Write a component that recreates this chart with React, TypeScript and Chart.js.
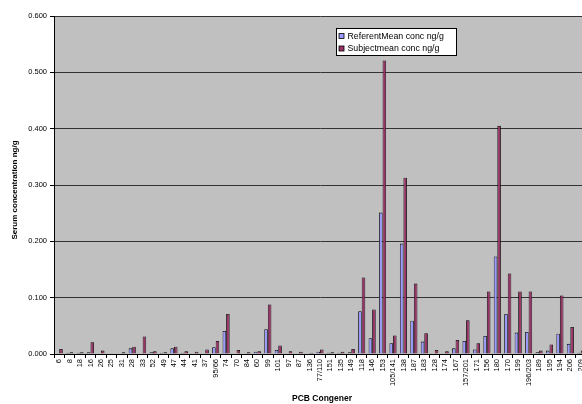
import { useEffect, useRef } from "react";
import { Chart, registerables } from "chart.js";

Chart.register(...registerables);

const FONT = "'Liberation Sans', Arial, sans-serif";

const categories = [
  "6", "8", "18", "16", "26", "25", "31", "28", "33", "52", "49", "47", "44", "41", "37",
  "95/66", "74", "70", "84", "60", "99", "101", "97", "87", "136", "77/110", "151", "135",
  "149", "118", "146", "153", "105/141", "138", "187", "183", "128", "174", "167", "157/201",
  "171", "156", "180", "170", "199", "196/203", "189", "195", "194", "206", "209",
];

const referentMean = [
  0.001, 0.002, 0.002, 0.003, 0.001, 0.001, 0.001, 0.010, 0.001, 0.003,
  0.002, 0.010, 0.002, 0.001, 0.001, 0.012, 0.041, 0.001, 0.001, 0.004,
  0.044, 0.007, 0.001, 0.001, 0.001, 0.004, 0.002, 0.002, 0.003, 0.076,
  0.028, 0.251, 0.019, 0.196, 0.059, 0.022, 0.001, 0.001, 0.010, 0.023,
  0.008, 0.032, 0.173, 0.071, 0.038, 0.039, 0.003, 0.006, 0.036, 0.018,
  0.002,
];

const subjectMean = [
  0.009, 0.003, 0.003, 0.021, 0.006, 0.001, 0.003, 0.013, 0.031, 0.005,
  0.003, 0.013, 0.005, 0.004, 0.008, 0.023, 0.071, 0.007, 0.003, 0.005,
  0.088, 0.015, 0.005, 0.004, 0.002, 0.008, 0.003, 0.004, 0.009, 0.136,
  0.079, 0.521, 0.033, 0.313, 0.125, 0.037, 0.007, 0.005, 0.025, 0.060,
  0.019, 0.111, 0.405, 0.143, 0.111, 0.111, 0.006, 0.017, 0.104, 0.048,
  0.006,
];

const seriesLabels = ["ReferentMean conc ng/g", "Subjectmean conc ng/g"];
const seriesColors = ["#9999FF", "#993366"];
const xTitle = "PCB Congener";
const yTitle = "Serum concentration ng/g";

export default function App() {
  const ref = useRef<HTMLCanvasElement>(null);

  useEffect(() => {
    if (!ref.current) return;

    const background = {
      id: "background",
      beforeDraw(c: any) {
        const { ctx, chartArea: a } = c;
        ctx.save();
        ctx.fillStyle = "#ffffff";
        ctx.fillRect(0, 0, c.width, c.height);
        ctx.fillStyle = "#C0C0C0";
        ctx.fillRect(a.left, a.top, a.right - a.left, a.bottom - a.top);
        ctx.restore();
      },
    };

    const annotations = {
      id: "annotations",
      afterDraw(c: any) {
        const { ctx } = c;
        ctx.save();
        // axis titles
        ctx.fillStyle = "#000";
        ctx.textAlign = "center";
        ctx.textBaseline = "middle";
        ctx.font = `bold 8.5px ${FONT}`;
        ctx.fillText(xTitle, 322, 398.5);
        ctx.save();
        ctx.translate(15, 190);
        ctx.rotate(-Math.PI / 2);
        ctx.font = `bold 8px ${FONT}`;
        ctx.fillText(yTitle, 0, 0);
        ctx.restore();

        // legend box
        const x = 336;
        const y = 28;
        const w = 120;
        const h = 27;
        ctx.fillStyle = "#ffffff";
        ctx.fillRect(x, y, w, h);
        ctx.strokeStyle = "#000000";
        ctx.lineWidth = 1;
        ctx.strokeRect(x + 0.5, y + 0.5, w, h);
        ctx.font = `8.8px ${FONT}`;
        ctx.textAlign = "left";
        ctx.textBaseline = "middle";
        c.data.datasets.forEach((ds: any, i: number) => {
          const cy = y + 8 + i * 12.5;
          ctx.fillStyle = ds.backgroundColor;
          ctx.fillRect(x + 3, cy - 2.5, 5, 5);
          ctx.strokeStyle = "#000";
          ctx.lineWidth = 0.8;
          ctx.strokeRect(x + 3, cy - 2.5, 5, 5);
          ctx.fillStyle = "#000";
          ctx.fillText(ds.label, x + 11.5, cy + 0.5);
        });
        ctx.restore();
      },
    };

    const chart = new Chart(ref.current, {
      type: "bar",
      data: {
        labels: categories,
        datasets: [
          {
            label: seriesLabels[0],
            data: referentMean,
            backgroundColor: seriesColors[0],
            borderColor: "#000000",
            borderWidth: 0.8,
            categoryPercentage: 0.68,
            barPercentage: 1.0,
          },
          {
            label: seriesLabels[1],
            data: subjectMean,
            backgroundColor: seriesColors[1],
            borderColor: "#000000",
            borderWidth: 0.8,
            categoryPercentage: 0.68,
            barPercentage: 1.0,
          },
        ],
      },
      options: {
        responsive: false,
        animation: false,
        layout: { padding: { top: 16, right: 14, left: 0, bottom: 0 } },
        plugins: {
          legend: { display: false },
          tooltip: { enabled: false },
        },
        scales: {
          x: {
            grid: {
              display: true,
              drawOnChartArea: false,
              color: "#000000",
              tickLength: 4,
              offset: true,
            },
            border: { color: "#000000", width: 1 },
            ticks: {
              font: { family: FONT, size: 7.5 },
              color: "#000000",
              minRotation: 90,
              maxRotation: 90,
              autoSkip: false,
              padding: 1,
            },
            afterFit(s: any) {
              s.height = 50;
              s.paddingLeft = 0;
              s.paddingRight = 0;
            },
          },
          y: {
            min: 0,
            max: 0.6,
            ticks: {
              stepSize: 0.1,
              callback: (v: any) => Number(v).toFixed(3),
              font: { family: FONT, size: 7.5 },
              color: "#000000",
              padding: 3,
            },
            grid: {
              color: "#333333",
              tickColor: "#000000",
              tickLength: 4,
              lineWidth: 1,
            },
            border: { color: "#000000", width: 1 },
            afterFit(s: any) {
              s.width = 54;
              s.paddingTop = 0;
              s.paddingBottom = 0;
            },
          },
        },
      },
      plugins: [background, annotations],
    });

    return () => chart.destroy();
  }, []);

  return (
    <div
      style={{
        position: "fixed",
        top: 0,
        left: 0,
        width: 582,
        height: 404,
        overflow: "hidden",
        background: "#ffffff",
      }}
    >
      <canvas
        ref={ref}
        width={600}
        height={404}
        style={{ display: "block", width: 600, height: 404 }}
      />
    </div>
  );
}
